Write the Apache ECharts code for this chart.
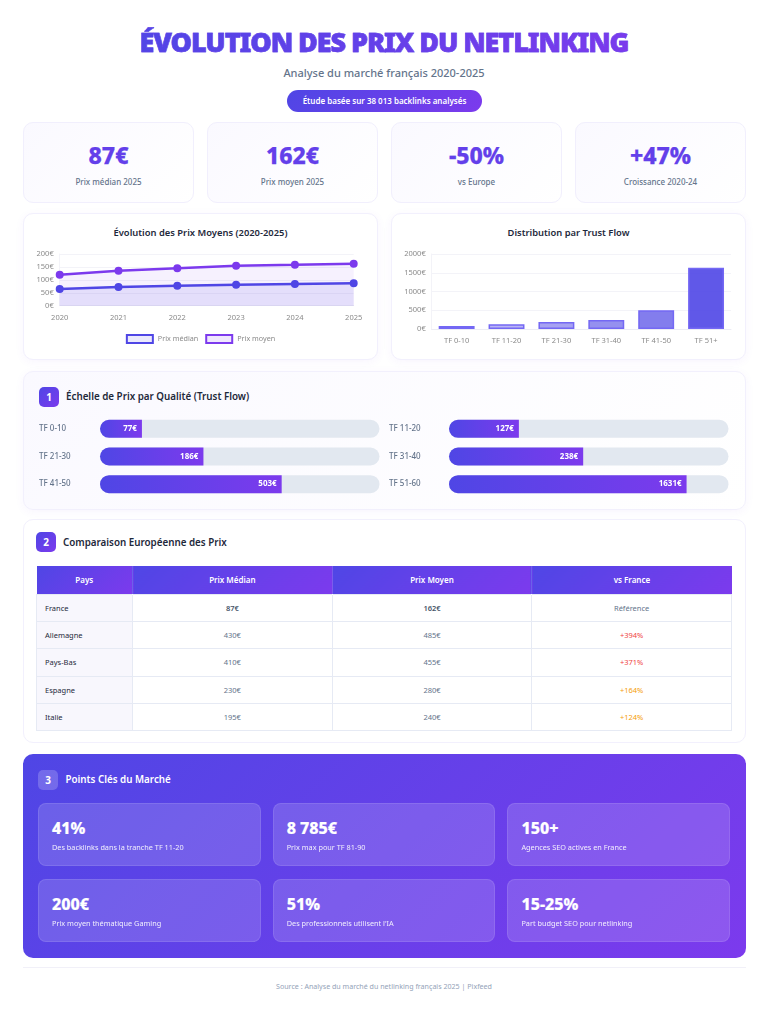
<!DOCTYPE html>
<html lang="fr">
<head>
<meta charset="utf-8">
<title>Évolution des prix du netlinking</title>
<script src="https://cdn.jsdelivr.net/npm/echarts@6/dist/echarts.min.js"></script>
<style>
* { box-sizing: border-box; margin: 0; padding: 0; }
html, body { width: 768px; height: 1024px; background: #fff; overflow: hidden; }
body { position: relative; font-family: "Noto Sans", sans-serif; color: #1e293b; }
.abs { position: absolute; }
.center { left: 0; width: 768px; text-align: center; }
h1 { top: 24px; font-size: 27px; line-height: 36px; font-weight: 900; letter-spacing: -1.1px; }
h1 span { background: linear-gradient(135deg, #4f46e5, #7c3aed); -webkit-background-clip: text; background-clip: text; color: transparent; -webkit-text-stroke: .45px #6340ea; }
.sub { top: 65px; font-size: 11px; line-height: 16px; color: #64748b; font-weight: 500; }
.pill { left: 287px; top: 90px; width: 195px; height: 22px; border-radius: 11px; background: linear-gradient(135deg, #4f46e5, #7c3aed); color: #fff; font-size: 8px; font-weight: 600; text-align: center; line-height: 22px; }
.kpi { top: 122px; width: 171px; height: 81px; border-radius: 10px; border: 1px solid #f1effd; background: linear-gradient(135deg, #faf9ff, #fff); text-align: center; }
.kpi b { display: block; margin-top: 17px; font-size: 23px; line-height: 30px; font-weight: 800; color: #6340ea; -webkit-text-stroke: .25px #6340ea; }
.kpi span { display: block; margin-top: 6px; font-size: 8px; line-height: 12px; color: #64748b; font-weight: 500; }
.card { border-radius: 10px; border: 1px solid #f2f0fd; background: #fff; box-shadow: 0 2px 10px rgba(124, 58, 237, .05); }
.ctitle { top: 226px; width: 355px; text-align: center; font-size: 9.4px; line-height: 13px; font-weight: 600; color: #1e293b; }
.badge { width: 20px; height: 20px; border-radius: 5px; background: linear-gradient(135deg, #4f46e5, #7c3aed); color: #fff; font-size: 10px; font-weight: 700; line-height: 20px; text-align: center; }
.stitle { font-size: 9.8px; line-height: 14px; font-weight: 600; color: #1e293b; white-space: nowrap; }
table { left: 36px; top: 566px; width: 696px; border-collapse: collapse; table-layout: fixed; font-size: 7.5px; color: #64748b; }
th { height: 28px; color: #fff; font-weight: 600; font-size: 8px; background: linear-gradient(135deg, #4f46e5, #7c3aed); border-left: 1px solid rgba(255, 255, 255, .15); }
td { height: 27.4px; text-align: center; border: 1px solid #e6eaf4; }
td:first-child { text-align: left; padding-left: 8px; background: #f8f7fd; font-weight: 400; color: #1e293b; }
tr.ref td { color: #475569; font-weight: 600; }
tr.ref td:first-child { color: #1e293b; font-weight: 400; }
tr.ref td:last-child { color: #64748b; font-weight: 400; }
.hot { color: #ef4444; }
.warm { color: #f59e0b; }
.panel { left: 23px; top: 754px; width: 723px; height: 204px; border-radius: 10px; background: linear-gradient(135deg, #4f46e5, #7c3aed); }
.tip { width: 222.5px; height: 63px; border-radius: 8px; background: rgba(255, 255, 255, .15); border: 1px solid rgba(255, 255, 255, .1); color: #fff; padding-left: 13px; }
.tip b { display: block; margin-top: 14px; font-size: 16px; line-height: 20px; font-weight: 800; -webkit-text-stroke: .2px #fff; }
.tip span { display: block; margin-top: 3.5px; font-size: 7.3px; line-height: 11px; opacity: .9; }
.foot { left: 23px; top: 967px; width: 723px; height: 1px; background: #f1f0f8; }
.source { top: 980px; font-size: 7.1px; line-height: 12px; color: #94a3b8; }
</style>
</head>
<body>
<h1 class="abs center"><span>ÉVOLUTION DES PRIX DU NETLINKING</span></h1>
<div class="abs center sub">Analyse du marché français 2020-2025</div>
<div class="abs pill">Étude basée sur 38 013 backlinks analysés</div>
<div id="kpis"></div>

<div class="abs card" style="left:23px;top:213px;width:355px;height:147px"></div>
<div class="abs card" style="left:391px;top:213px;width:355px;height:147px"></div>
<div class="abs ctitle" style="left:23px">Évolution des Prix Moyens (2020-2025)</div>
<div class="abs ctitle" style="left:391px">Distribution par Trust Flow</div>
<div class="abs" id="lineChart" style="left:23px;top:245px;width:355px;height:110px"></div>
<div class="abs" id="barChart" style="left:391px;top:245px;width:355px;height:110px"></div>

<div class="abs card" style="left:23px;top:371px;width:723px;height:139px;background:linear-gradient(135deg,#faf9ff,#fff)"></div>
<div class="abs badge" style="left:39px;top:387px">1</div>
<div class="abs stitle" style="left:66px;top:390px">Échelle de Prix par Qualité (Trust Flow)</div>
<div class="abs" id="scaleChart" style="left:23px;top:415px;width:723px;height:90px"></div>

<div class="abs card" style="left:23px;top:519px;width:723px;height:224px;box-shadow:none"></div>
<div class="abs badge" style="left:36px;top:532px">2</div>
<div class="abs stitle" style="left:63px;top:536px">Comparaison Européenne des Prix</div>
<table class="abs" id="priceTable"></table>

<div class="abs panel"></div>
<div class="abs badge" style="left:38px;top:770px;background:rgba(255,255,255,.2)">3</div>
<div class="abs stitle" style="left:65.5px;top:773px;color:#fff">Points Clés du Marché</div>
<div id="tips"></div>

<div class="abs foot"></div>
<div class="abs center source">Source : Analyse du marché du netlinking français 2025 | Pixfeed</div>

<script>
var kpiValues = ['87€', '162€', '-50%', '+47%'];
var kpiLabels = ['Prix médian 2025', 'Prix moyen 2025', 'vs Europe', 'Croissance 2020-24'];

var years = ['2020', '2021', '2022', '2023', '2024', '2025'];
var medianByYear = [65, 72, 77, 81, 84, 87];
var meanByYear = [120, 135, 145, 155, 158, 162];

var tfBands = ['TF 0-10', 'TF 11-20', 'TF 21-30', 'TF 31-40', 'TF 41-50', 'TF 51+'];
var tfPrices = [77, 127, 186, 238, 503, 1631];
var tfOpacity = [0.3, 0.4, 0.5, 0.6, 0.7, 0.9];

// the gauges are not to scale in the picture, fill is its own number
var scaleLeftLabels = ['TF 0-10', 'TF 21-30', 'TF 41-50'];
var scaleLeftPrices = [77, 186, 503];
var scaleLeftFill = [15, 37, 65];
var scaleRightLabels = ['TF 11-20', 'TF 31-40', 'TF 51-60'];
var scaleRightPrices = [127, 238, 1631];
var scaleRightFill = [25, 48, 85];

var countries = ['France', 'Allemagne', 'Pays-Bas', 'Espagne', 'Italie'];
var medianPrices = ['87€', '430€', '410€', '230€', '195€'];
var meanPrices = ['162€', '485€', '455€', '280€', '240€'];
var vsFrance = ['Référence', '+394%', '+371%', '+164%', '+124%'];

var tipValues = ['41%', '8 785€', '150+', '200€', '51%', '15-25%'];
var tipLabels = [
    'Des backlinks dans la tranche TF 11-20',
    'Prix max pour TF 81-90',
    'Agences SEO actives en France',
    'Prix moyen thématique Gaming',
    'Des professionnels utilisent l\'IA',
    'Part budget SEO pour netlinking'
];

var kpiHtml = '';
kpiValues.forEach(function (v, i) {
    kpiHtml += '<div class="abs kpi" style="left:' + (23 + i * 184) + 'px"><b>' + v + '</b><span>' + kpiLabels[i] + '</span></div>';
});
document.getElementById('kpis').innerHTML = kpiHtml;

var rows = '<tr><th style="width:96px;border-left:none">Pays</th><th>Prix Médian</th><th>Prix Moyen</th><th>vs France</th></tr>';
countries.forEach(function (c, i) {
    var cls = i === 0 ? '' : (i < 3 ? 'hot' : 'warm');
    rows += '<tr' + (i === 0 ? ' class="ref"' : '') + '><td>' + c + '</td><td>' + medianPrices[i] + '</td><td>' + meanPrices[i] + '</td><td class="' + cls + '">' + vsFrance[i] + '</td></tr>';
});
document.getElementById('priceTable').innerHTML = rows;

var tipHtml = '';
tipValues.forEach(function (v, i) {
    var x = 38 + (i % 3) * 234.7, y = i < 3 ? 803 : 879;
    tipHtml += '<div class="abs tip" style="left:' + x + 'px;top:' + y + 'px"><b>' + v + '</b><span>' + tipLabels[i] + '</span></div>';
});
document.getElementById('tips').innerHTML = tipHtml;

var tickColor = '#8a8a8a';
var gridColor = '#f3f3f8';
function euro(v) { return v + '€'; }

var lineChart = echarts.init(document.getElementById('lineChart'));
lineChart.setOption({
    animation: false,
    textStyle: { fontFamily: 'Noto Sans' },
    grid: { left: 36.7, right: 24.3, top: 9, height: 51.7 },
    legend: {
        top: 84,
        itemWidth: 26,
        itemHeight: 8,
        itemGap: 7,
        icon: 'rect',
        textStyle: { color: '#8a8a8a', fontSize: 7.2 },
        data: [
            { name: 'Prix médian', itemStyle: { color: 'rgba(79,70,229,0.12)', borderColor: '#4f46e5', borderWidth: 2 } },
            { name: 'Prix moyen', itemStyle: { color: 'rgba(124,58,237,0.12)', borderColor: '#7c3aed', borderWidth: 2 } }
        ]
    },
    xAxis: {
        type: 'category',
        data: years,
        boundaryGap: false,
        axisLine: { lineStyle: { color: '#ececf4' } },
        axisTick: { show: false },
        axisLabel: { color: tickColor, fontSize: 7.5, margin: 8 },
        splitLine: { show: false }
    },
    yAxis: {
        type: 'value',
        min: 0,
        max: 200,
        interval: 50,
        axisLine: { show: true, lineStyle: { color: gridColor } },
        axisLabel: { color: tickColor, fontSize: 7.5, margin: 6, formatter: euro },
        splitLine: { lineStyle: { color: gridColor } }
    },
    series: [{
        name: 'Prix médian',
        type: 'line',
        data: medianByYear,
        symbol: 'circle',
        symbolSize: 6.5,
        lineStyle: { color: '#4f46e5', width: 2.5 },
        itemStyle: { color: '#4f46e5', borderColor: '#4f46e5', borderWidth: 1.5 },
        areaStyle: { color: 'rgba(79,70,229,0.15)' }
    }, {
        name: 'Prix moyen',
        type: 'line',
        data: meanByYear,
        symbol: 'circle',
        symbolSize: 6.5,
        lineStyle: { color: '#7c3aed', width: 2.5 },
        itemStyle: { color: '#7c3aed', borderColor: '#7c3aed', borderWidth: 1.5 },
        areaStyle: { color: 'rgba(124,58,237,0.1)' }
    }]
});

var barChart = echarts.init(document.getElementById('barChart'));
barChart.setOption({
    animation: false,
    textStyle: { fontFamily: 'Noto Sans' },
    grid: { left: 40.7, right: 15, top: 9, height: 75 },
    xAxis: {
        type: 'category',
        data: tfBands,
        axisLine: { lineStyle: { color: '#ececf4' } },
        axisTick: { show: false },
        axisLabel: { color: tickColor, fontSize: 7.5, margin: 8 }
    },
    yAxis: {
        type: 'value',
        min: 0,
        max: 2000,
        interval: 500,
        axisLine: { show: true, lineStyle: { color: gridColor } },
        axisLabel: { color: tickColor, fontSize: 7.5, margin: 6, formatter: euro },
        splitLine: { lineStyle: { color: gridColor } }
    },
    series: [{
        type: 'bar',
        barCategoryGap: '28%',
        data: tfPrices.map(function (p, i) {
            return {
                value: p,
                itemStyle: { color: 'rgba(79,70,229,' + tfOpacity[i] + ')', borderColor: '#7468f4', borderWidth: 1.5 }
            };
        })
    }]
});

function scaleGrid(left) {
    return { left: left, width: 279.5, top: 0, height: 83 };
}
function scaleY(i, labels, margin) {
    return {
        type: 'category',
        gridIndex: i,
        inverse: true,
        data: labels,
        axisLine: { show: false },
        axisTick: { show: false },
        axisLabel: { color: '#64748b', fontSize: 8, fontWeight: 500, align: 'left', margin: margin }
    };
}
function scaleSeries(i, fill, prices) {
    return {
        type: 'bar',
        xAxisIndex: i,
        yAxisIndex: i,
        barWidth: 18,
        showBackground: true,
        backgroundStyle: { color: '#e2e8f0', borderRadius: 9 },
        data: fill.map(function (f, j) {
            return { value: f, price: prices[j] };
        }),
        itemStyle: {
            borderRadius: [9, 0, 0, 9],
            color: new echarts.graphic.LinearGradient(0, 0, 1, 0, [
                { offset: 0, color: '#4f46e5' },
                { offset: 1, color: '#7c3aed' }
            ])
        },
        label: {
            show: true,
            position: 'insideRight',
            distance: 5,
            color: '#fff',
            fontSize: 8,
            fontWeight: 700,
            formatter: function (p) { return p.data.price + '€'; }
        }
    };
}
var scaleAxisX = { type: 'value', min: 0, max: 100, show: false };
var scaleChart = echarts.init(document.getElementById('scaleChart'));
scaleChart.setOption({
    animation: false,
    textStyle: { fontFamily: 'Noto Sans' },
    grid: [scaleGrid(77), scaleGrid(426)],
    xAxis: [Object.assign({ gridIndex: 0 }, scaleAxisX), Object.assign({ gridIndex: 1 }, scaleAxisX)],
    yAxis: [scaleY(0, scaleLeftLabels, 61), scaleY(1, scaleRightLabels, 60)],
    series: [scaleSeries(0, scaleLeftFill, scaleLeftPrices), scaleSeries(1, scaleRightFill, scaleRightPrices)]
});
</script>
</body>
</html>
